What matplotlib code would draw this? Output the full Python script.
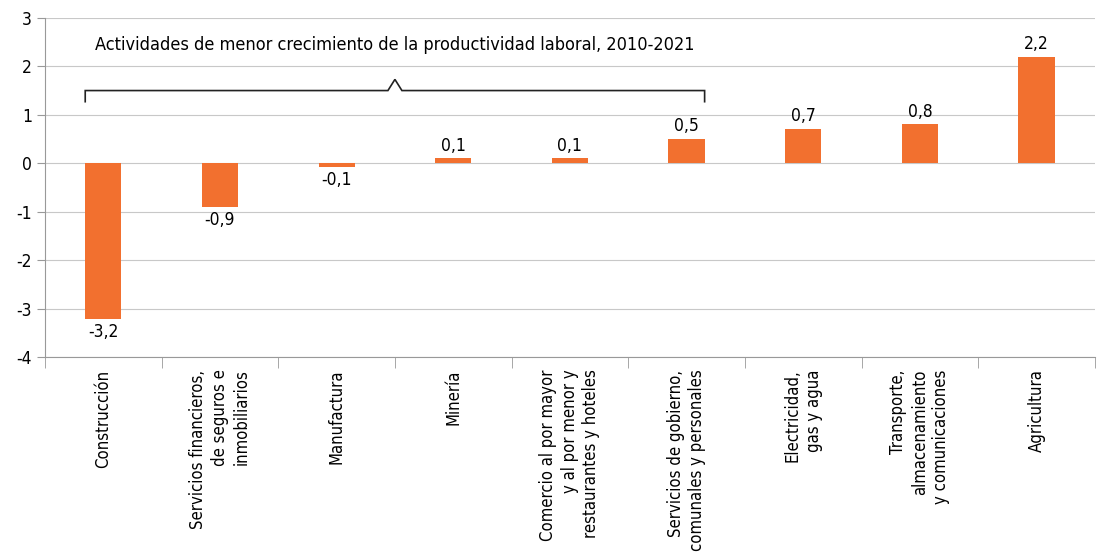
import matplotlib
matplotlib.use("Agg")
import matplotlib.pyplot as plt
from matplotlib import font_manager

categories = [
    "Construcción",
    "Servicios financieros,\nde seguros e\ninmobiliarios",
    "Manufactura",
    "Minería",
    "Comercio al por mayor\ny al por menor y\nrestaurantes y hoteles",
    "Servicios de gobierno,\ncomunales y personales",
    "Electricidad,\ngas y agua",
    "Transporte,\nalmacenamiento\ny comunicaciones",
    "Agricultura",
]
values = [-3.22, -0.9, -0.08, 0.1, 0.1, 0.5, 0.7, 0.8, 2.2]
value_labels = ["-3,2", "-0,9", "-0,1", "0,1", "0,1", "0,5", "0,7", "0,8", "2,2"]
yticks = [-4, -3, -2, -1, 0, 1, 2, 3]
annotation = "Actividades de menor crecimiento de la productividad laboral, 2010-2021"

fonts = font_manager.fontManager.ttflist
names = {f.name for f in fonts}
cond = [f for f in fonts if f.name == "DejaVu Sans" and f.stretch == "condensed" and f.weight in ("normal", 400)]
if "Liberation Sans Narrow" in names:
    plt.rcParams["font.family"] = ["Liberation Sans Narrow", "DejaVu Sans"]
else:
    plt.rcParams["font.family"] = ["DejaVu Sans"]
    if cond:
        plt.rcParams["font.stretch"] = "condensed"
plt.rcParams["font.size"] = 12

color = "#F2702F"
fig = plt.figure(figsize=(10.97, 5.58), dpi=100)
ax = fig.add_axes([0.041, 0.36, 0.957, 0.608])

x = list(range(len(categories)))
bw = 0.31
ax.bar(x, values, width=bw, color=color, zorder=3)

for xi, v, lab in zip(x, values, value_labels):
    if v >= 0:
        ax.text(xi, v + 0.08, lab, ha="center", va="bottom", fontsize=12.5)
    else:
        ax.text(xi, v - 0.08, lab, ha="center", va="top", fontsize=12.5)

ax.set_xlim(-0.5, len(categories) - 0.5)
ax.set_ylim(-4, 3)
ax.set_yticks(yticks)
ax.set_yticklabels([str(t) for t in yticks])
ax.yaxis.grid(True, color="#c8c8c8", linewidth=0.8, zorder=0)
ax.set_axisbelow(True)

ax.set_xticks(x)
ax.set_xticklabels(categories, rotation=90, ha="center", va="top",
                   multialignment="right", fontsize=12, linespacing=1.25)
ax.tick_params(axis="x", length=0, pad=9)
ax.set_xticks([i + 0.5 for i in range(-1, len(categories))], minor=True)
ax.tick_params(axis="x", which="minor", length=8, color="#999999", direction="out")
ax.tick_params(axis="y", length=6, color="#999999", labelsize=12.5)

for s in ["top", "right"]:
    ax.spines[s].set_visible(False)
ax.spines["left"].set_color("#999999")
ax.spines["bottom"].set_color("#999999")

# bracket
x0 = 0 - bw / 2
x1 = 5 + bw / 2
xm = (x0 + x1) / 2
yb = 1.5
ax.plot([x0, x0, xm - 0.06, xm, xm + 0.06, x1, x1],
        [1.27, yb, yb, 1.73, yb, yb, 1.27], color="#222222", linewidth=1.2,
        solid_joinstyle="miter", zorder=4)
ax.text(xm, 2.45, annotation, ha="center", va="center", fontsize=13)

fig.savefig("out.png", dpi=100)
